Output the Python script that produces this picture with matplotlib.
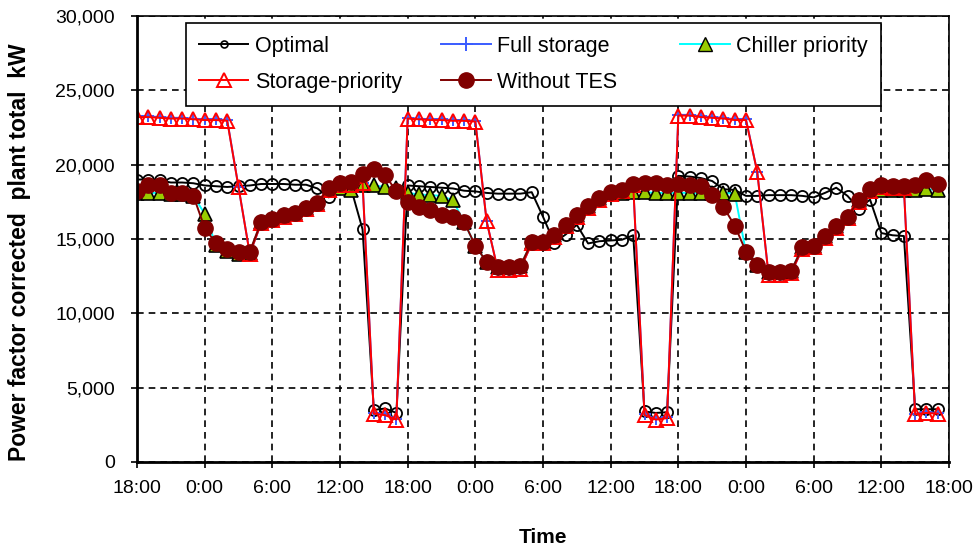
import matplotlib
matplotlib.use("Agg")
import matplotlib.pyplot as plt
from matplotlib.lines import Line2D
from matplotlib.ticker import FuncFormatter

plt.rcParams["font.family"] = ["Liberation Sans", "DejaVu Sans"]

# hourly values, 3 days starting 18:00
hours = list(range(72))
tick_pos = list(range(0, 73, 6))
tick_labels = ["18:00", "0:00", "6:00", "12:00"] * 3 + ["18:00"]

optimal = [19000, 19000, 18950, 18800, 18800, 18750, 18600, 18550, 18500, 18550,
           18600, 18700, 18700, 18700, 18650, 18650, 18400, 17800, 18400, 18350,
           15650, 3500, 3600, 3300, 18600, 18550, 18500, 18450, 18400, 18250,
           18200, 18100, 18050, 18050, 18050, 18150, 16500, 14750, 15300, 15950,
           14700, 14850, 14900, 14950, 15250, 3400, 3300, 3350, 19250, 19200,
           19100, 18900, 18350, 18300, 17900, 17900, 17950, 17950, 17950, 17900,
           17800, 18100, 18450, 17900, 17050, 17650, 15400, 15250, 15200, 3550,
           3550, 3550]

full_storage = [23250, 23250, 23200, 23150, 23150, 23100, 23050, 23050, 23000, 18500,
                14000, 16050, 16250, 16500, 16650, 17000, 17350, 18300, 18600, 18600,
                18800, 3300, 3200, 2900, 23150, 23100, 23050, 23050, 23000, 23000,
                22950, 16200, 12900, 12900, 13000, 14700, 14700, 15150, 15850, 16500,
                17100, 17650, 18050, 18200, 18600, 3200, 2900, 3000, 23350, 23350,
                23250, 23200, 23150, 23050, 23050, 19500, 12600, 12600, 12700, 14350,
                14450, 15100, 15750, 16400, 17500, 18250, 18500, 18450, 18450, 3250,
                3350, 3300]

chiller_priority = [18100, 18100, 18100, 18000, 18000, 17900, 16700, 14600, 14200, 14000,
                    14050, 16150, 16350, 16600, 16750, 17100, 17450, 18300, 18400, 18300,
                    18600, 18600, 18500, 18400, 18100, 18000, 17950, 17900, 17600, 16150,
                    14550, 13450, 13100, 13100, 13200, 14800, 14800, 15250, 15950, 16600,
                    17200, 17750, 18100, 18100, 18150, 18150, 18100, 18100, 18100, 18100,
                    18100, 18100, 18100, 18050, 14100, 13250, 12750, 12750, 12850, 14450,
                    14550, 15200, 15850, 16500, 17600, 18300, 18300, 18300, 18300, 18300,
                    18350, 18300]

storage_priority = [23200, 23200, 23150, 23100, 23100, 23050, 23000, 23000, 22950, 18500,
                    14000, 16050, 16250, 16500, 16650, 17000, 17350, 18300, 18600, 18600,
                    18800, 3250, 3150, 2850, 23100, 23050, 23000, 23000, 22950, 22950,
                    22900, 16200, 12900, 12900, 13000, 14700, 14700, 15150, 15850, 16500,
                    17100, 17650, 18050, 18200, 18600, 3150, 2850, 2950, 23300, 23300,
                    23200, 23150, 23100, 23000, 23000, 19500, 12600, 12600, 12700, 14350,
                    14450, 15100, 15750, 16400, 17500, 18250, 18500, 18450, 18450, 3200,
                    3300, 3250]

without_tes = [18200, 18600, 18600, 18100, 18100, 17900, 15750, 14700, 14300, 14100,
               14150, 16150, 16350, 16600, 16750, 17100, 17450, 18400, 18800, 18850,
               19350, 19700, 19300, 18200, 17500, 17150, 16950, 16600, 16450, 16150,
               14550, 13450, 13100, 13100, 13200, 14800, 14800, 15250, 15950, 16600,
               17200, 17750, 18150, 18300, 18700, 18800, 18800, 18650, 18700, 18650,
               18550, 17950, 17150, 15900, 14150, 13250, 12750, 12750, 12850, 14450,
               14550, 15200, 15850, 16500, 17600, 18350, 18600, 18550, 18550, 18600,
               18950, 18700]

fig = plt.figure(figsize=(9.8, 5.48), dpi=100)
ax = fig.add_axes([137 / 980, 86 / 548, 812 / 980, 446 / 548])

ax.plot(hours, optimal, color="black", lw=1.4, marker="o", ms=8,
        mfc="none", mec="black", mew=1.3)
ax.plot(hours, full_storage, color="#3a5cff", lw=1.4, marker="+", ms=9,
        mec="#3a5cff", mew=1.4)
ax.plot(hours, chiller_priority, color="cyan", lw=1.4, marker="^", ms=10,
        mfc="#99cc00", mec="black", mew=1.2)
ax.plot(hours, storage_priority, color="red", lw=1.4, marker="^", ms=10,
        mfc="none", mec="red", mew=1.4)
ax.plot(hours, without_tes, color="#800000", lw=1.4, marker="o", ms=11,
        mfc="#800000", mec="#800000")

ax.set_xlim(0, 72)
ax.set_ylim(0, 30000)
ax.set_xticks(tick_pos)
ax.set_xticklabels(tick_labels)
ax.set_yticks(range(0, 30001, 5000))
ax.yaxis.set_major_formatter(FuncFormatter(lambda v, p: f"{int(v):,}"))
ax.tick_params(labelsize=14, length=4, width=1.2, pad=9, direction="out")
ax.tick_params(axis="y", pad=12)
ax.grid(True, color="black", linestyle=(0, (4, 3)), lw=1.2)
for s in ax.spines.values():
    s.set_linewidth(1.2)
ax.spines["left"].set_linewidth(2)
ax.spines["bottom"].set_linewidth(2)

ax.set_xlabel("Time", fontsize=15, fontweight="bold", labelpad=22)
fig.text(20 / 980, 1 - 252 / 548, "Power factor corrected  plant total  kW",
         rotation=90, ha="center", va="center", fontsize=16.5, fontweight="bold")

handles = [
    Line2D([], [], color="black", lw=1.4, marker="o", ms=5, mfc="none", mew=1.2),
    Line2D([], [], color="red", lw=1.4, marker="^", ms=10, mfc="none", mec="red", mew=1.4),
    Line2D([], [], color="#3a5cff", lw=1.4, marker="+", ms=10, mew=1.4),
    Line2D([], [], color="#800000", lw=1.4, marker="o", ms=11, mfc="#800000"),
    Line2D([], [], color="cyan", lw=1.4, marker="^", ms=10, mfc="#99cc00", mec="black"),
]
labels = ["Optimal", "Storage-priority", "Full storage", "Without TES    ", "Chiller priority"]
leg = ax.legend(handles, labels, ncol=3, loc="upper left",
                bbox_to_anchor=(186 / 980, 1 - 23 / 548), bbox_transform=fig.transFigure,
                borderaxespad=0, fontsize=15.5, frameon=True, fancybox=False,
                edgecolor="black", framealpha=1, handlelength=2.3, handletextpad=0.3,
                columnspacing=1.82, labelspacing=0.7, borderpad=0.6)
leg.get_frame().set_linewidth(1.2)

fig.savefig("out.png", dpi=100)
